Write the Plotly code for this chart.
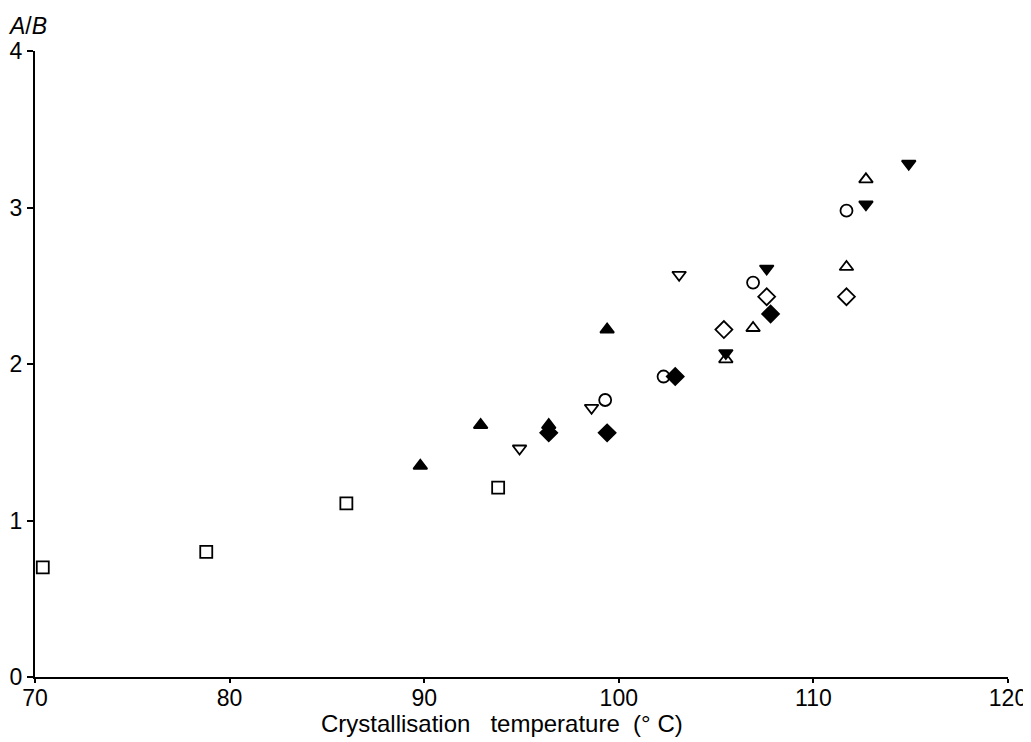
import plotly.graph_objects as go

sq_x = [70.4, 78.8, 86.0, 93.8]
sq_y = [0.70, 0.80, 1.11, 1.21]

tri_f_x = [89.8, 92.9, 96.4, 99.4]
tri_f_y = [1.35, 1.61, 1.61, 2.22]

dia_f_x = [96.4, 99.4, 102.9, 107.8]
dia_f_y = [1.56, 1.56, 1.92, 2.32]

dtri_f_x = [105.5, 107.6, 112.7, 114.9]
dtri_f_y = [2.07, 2.61, 3.02, 3.28]

dtri_o_x = [94.9, 98.6, 103.1]
dtri_o_y = [1.46, 1.72, 2.57]

circ_o_x = [99.3, 102.3, 106.9, 111.7]
circ_o_y = [1.77, 1.92, 2.52, 2.98]

tri_o_x = [105.5, 106.9, 111.7, 112.7]
tri_o_y = [2.03, 2.23, 2.62, 3.18]

dia_o_x = [105.4, 107.6, 111.7]
dia_o_y = [2.22, 2.43, 2.43]

x_title = "Crystallisation   temperature  (° C)"
y_title = "<i>A</i>/<i>B</i>"

series = [
    (sq_x, sq_y, "square-open", 12),
    (tri_f_x, tri_f_y, "triangle-up", 12),
    (dia_f_x, dia_f_y, "diamond", 13),
    (dtri_f_x, dtri_f_y, "triangle-down", 12),
    (dtri_o_x, dtri_o_y, "triangle-down-open", 12),
    (circ_o_x, circ_o_y, "circle-open", 12),
    (tri_o_x, tri_o_y, "triangle-up-open", 12),
    (dia_o_x, dia_o_y, "diamond-open", 13),
]

fig = go.Figure()
for xs, ys, sym, sz in series:
    fig.add_trace(go.Scatter(
        x=xs, y=ys, mode="markers",
        marker=dict(symbol=sym, size=sz, color="black",
                    line=dict(color="black", width=1.8)),
        showlegend=False, cliponaxis=False))

font = "Liberation Sans Narrow, Arial Narrow, sans-serif"
fig.update_layout(
    width=1031, height=742,
    margin=dict(l=27, r=31, t=43, b=73),
    plot_bgcolor="white", paper_bgcolor="white",
    font=dict(family=font, size=23, color="black"),
    xaxis=dict(range=[70, 120], tickvals=[70, 80, 90, 100, 110, 120],
               showline=True, linecolor="black", linewidth=2,
               ticks="outside", ticklen=4, tickwidth=2, tickcolor="black",
               showgrid=False, zeroline=False, automargin=False,
               ticklabelstandoff=-5,
               tickfont=dict(size=23)),
    yaxis=dict(range=[0, 4], tickvals=[0, 1, 2, 3, 4],
               showline=True, linecolor="black", linewidth=2,
               ticks="outside", ticklen=6, tickwidth=2, tickcolor="black",
               showgrid=False, zeroline=False, automargin=False,
               tickfont=dict(size=23)),
    annotations=[
        dict(text=y_title, xref="paper", yref="paper",
             x=-0.008, y=1.04, xanchor="center", yanchor="middle",
             showarrow=False, font=dict(size=23, family=font)),
        dict(text=x_title, xref="paper", yref="paper",
             x=0.48, y=-0.074, xanchor="center", yanchor="middle",
             showarrow=False, font=dict(size=24, family=font)),
    ],
)

fig.write_html("out.html")
